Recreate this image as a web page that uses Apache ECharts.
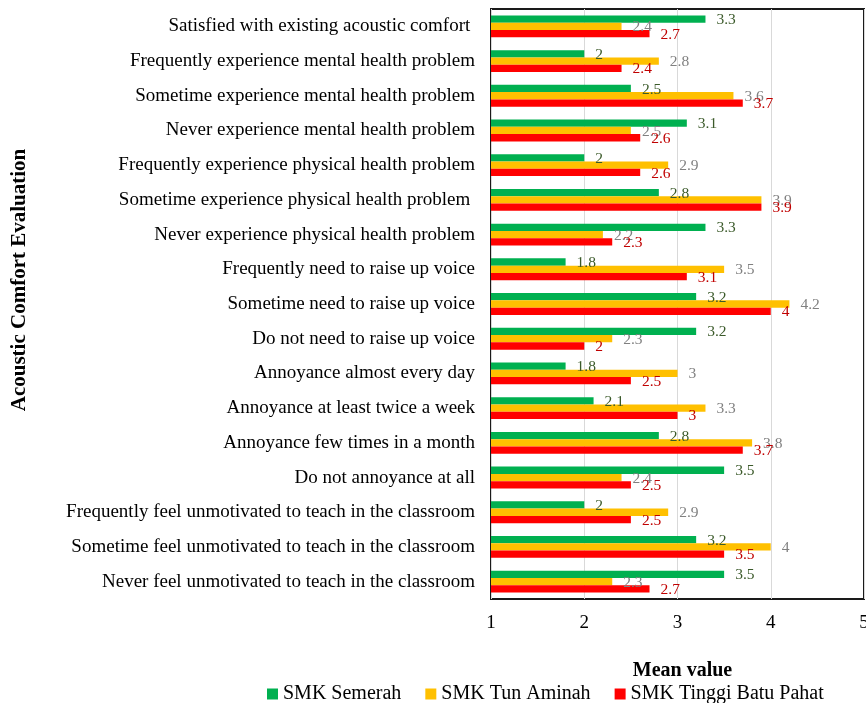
<!DOCTYPE html>
<html>
<head>
<meta charset="utf-8">
<title>Acoustic Comfort Evaluation</title>
<script src="https://cdn.jsdelivr.net/npm/echarts@6/dist/echarts.min.js"></script>
<style>
  html, body { margin: 0; padding: 0; background: #fff; }
  #chart { width: 866px; height: 703px; }
</style>
</head>
<body>
<div id="chart"></div>
<script>
// Survey items, listed top to bottom
var categories = [
  'Satisfied with existing acoustic comfort ',
  'Frequently experience mental health problem',
  'Sometime experience mental health problem',
  'Never experience mental health problem',
  'Frequently experience physical health problem',
  'Sometime experience physical health problem ',
  'Never experience physical health problem',
  'Frequently need to raise up voice',
  'Sometime need to raise up voice',
  'Do not need to raise up voice',
  'Annoyance almost every day',
  'Annoyance at least twice a week',
  'Annoyance few times in a month',
  'Do not annoyance at all',
  'Frequently feel unmotivated to teach in the classroom',
  'Sometime feel unmotivated to teach in the classroom',
  'Never feel unmotivated to teach in the classroom'
];

// Mean values per school
var smkSemerah = [3.3, 2, 2.5, 3.1, 2, 2.8, 3.3, 1.8, 3.2, 3.2, 1.8, 2.1, 2.8, 3.5, 2, 3.2, 3.5];
var smkTunAminah = [2.4, 2.8, 3.6, 2.5, 2.9, 3.9, 2.2, 3.5, 4.2, 2.3, 3, 3.3, 3.8, 2.4, 2.9, 4, 2.3];
var smkTinggiBatuPahat = [2.7, 2.4, 3.7, 2.6, 2.6, 3.9, 2.3, 3.1, 4, 2, 2.5, 3, 3.7, 2.5, 2.5, 3.5, 2.7];

var seriesNames = ['SMK Semerah', 'SMK Tun Aminah', 'SMK Tinggi Batu Pahat'];
var valueTicks = [1, 2, 3, 4, 5];

var FONT = '"Liberation Serif", "Times New Roman", Times, serif';

function barSeries(name, data, color, labelColor) {
  return {
    name: name,
    type: 'bar',
    data: data,
    barGap: '0%',
    barCategoryGap: '37%',
    itemStyle: { color: color },
    label: {
      show: true,
      position: 'right',
      distance: 11,
      color: labelColor,
      fontFamily: FONT,
      fontSize: 15.5,
      offset: [0, 1]
    },
    emphasis: { disabled: true }
  };
}

var chart = echarts.init(document.getElementById('chart'), null, { renderer: 'canvas' });

chart.setOption({
  animation: false,
  backgroundColor: '#ffffff',
  textStyle: { fontFamily: FONT },
  grid: {
    left: 491,
    top: 9,
    width: 373,
    height: 590,
    show: true,
    borderColor: '#1a1a1a',
    borderWidth: 2,
    backgroundColor: 'transparent',
    containLabel: false,
    outerBoundsMode: 'none'
  },
  legend: {
    data: seriesNames,
    left: 267,
    top: 684,
    padding: 0,
    itemWidth: 11,
    itemHeight: 11,
    itemGap: 24,
    icon: 'rect',
    textStyle: { fontFamily: FONT, fontSize: 20, color: '#000' }
  },
  xAxis: {
    type: 'value',
    min: valueTicks[0],
    max: valueTicks[valueTicks.length - 1],
    interval: 1,
    name: 'Mean value',
    nameLocation: 'middle',
    nameGap: 62,
    nameTextStyle: { fontFamily: FONT, fontSize: 20, fontWeight: 'bold', color: '#000', padding: [0, 0, 0, 10] },
    axisLine: { show: false },
    axisTick: { show: false },
    axisLabel: { fontFamily: FONT, fontSize: 19, color: '#000', margin: 15 },
    splitLine: { show: true, lineStyle: { color: '#d9d9d9', width: 1 } }
  },
  yAxis: {
    type: 'category',
    data: categories,
    inverse: true,
    axisLine: { show: false },
    axisTick: { show: false },
    axisLabel: { fontFamily: FONT, fontSize: 19, color: '#000', margin: 16 },
    splitLine: { show: false }
  },
  graphic: [{
    type: 'text',
    x: 20,
    y: 280,
    rotation: Math.PI / 2,
    style: {
      text: 'Acoustic Comfort Evaluation',
      fontFamily: FONT,
      fontSize: 21,
      fontWeight: 'bold',
      fill: '#000',
      align: 'center',
      verticalAlign: 'middle',
      textAlign: 'center',
      textVerticalAlign: 'middle'
    }
  }],
  series: [
    barSeries(seriesNames[0], smkSemerah, '#00b050', '#3b5a2a'),
    barSeries(seriesNames[1], smkTunAminah, '#ffc000', '#808080'),
    barSeries(seriesNames[2], smkTinggiBatuPahat, '#ff0000', '#c00000')
  ]
});
</script>
</body>
</html>
